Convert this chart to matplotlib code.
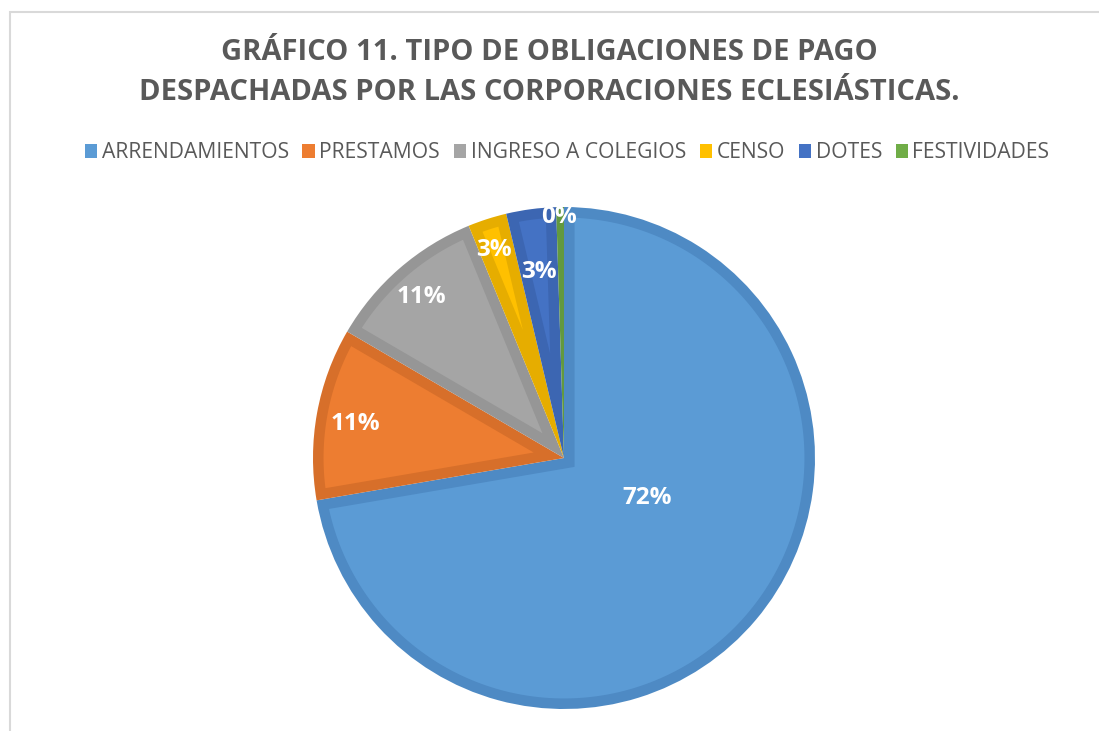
import numpy as np
import matplotlib.pyplot as plt
from matplotlib.patches import Rectangle, Wedge, Polygon

# data (percent of payment obligations)
categories = ['ARRENDAMIENTOS', 'PRESTAMOS', 'INGRESO A COLEGIOS', 'CENSO', 'DOTES', 'FESTIVIDADES']
values = [72.3, 11.1, 10.4, 2.5, 3.2, 0.5]
labels_txt = ['72%', '11%', '11%', '3%', '3%', '0%']

fill_colors = ['#5B9BD5', '#ED7D31', '#A5A5A5', '#FFC000', '#4472C4', '#70AD47']
edge_colors = ['#4E8AC4', '#D76F2A', '#969696', '#E6AD00', '#3C66B2', '#62993F']

# where Excel dropped the data labels (in pie-radius units)
label_pos = [(0.33, -0.16), (-0.83, 0.135), (-0.57, 0.64), (-0.28, 0.83), (-0.10, 0.74), (-0.02, 0.96)]

BORDER = 0.042   # thickness of the darker slice outline, in radius units


def inner_shape(a1, a2, r=1.0, d=BORDER):
    # the slice shrunk by d on every side (what is left inside the thick outline)
    h = np.radians(a2 - a1) / 2
    rin = r - d
    apex_dist = d / np.sin(h)
    if apex_dist >= rin:
        return None
    b = np.radians(a1) + h
    apex = (apex_dist * np.cos(b), apex_dist * np.sin(b))
    delta = np.arcsin(d / rin)
    t = np.linspace(np.radians(a1) + delta, np.radians(a2) - delta, 200)
    pts = [apex] + list(zip(rin * np.cos(t), rin * np.sin(t)))
    return pts


fig = plt.figure(figsize=(10.99, 7.31), dpi=100)

# light gray chart-area frame
fig.patches.append(Rectangle((9.5 / 1099, -0.1), 1.2, (731 - 11.5) / 731 + 0.1,
                             transform=fig.transFigure, fill=False,
                             edgecolor='#D9D9D9', linewidth=1.5))

ax = fig.add_axes([(564 - 251) / 1099, (731 - 458 - 251) / 731, 502 / 1099, 502 / 731])

# slices go clockwise from 12 o'clock
fracs = np.array(values) / sum(values)
start = 90.0
for f, fc, ec in zip(fracs, fill_colors, edge_colors):
    end = start - f * 360
    ax.add_patch(Wedge((0, 0), 1.0, end, start, facecolor=ec, edgecolor='none'))
    pts = inner_shape(end, start)
    if pts is not None:
        ax.add_patch(Polygon(pts, closed=True, facecolor=fc, edgecolor='none'))
    start = end

for (x, y), t in zip(label_pos, labels_txt):
    ax.text(x, y, t, ha='center', va='center', color='white',
            fontsize=17.5, fontweight='bold', family='Open Sans')
ax.set_xlim(-1, 1)
ax.set_ylim(-1, 1)
ax.set_aspect('equal')
ax.axis('off')

fig.text(0.5, 1 - 52 / 731, 'GRÁFICO 11. TIPO DE OBLIGACIONES DE PAGO',
         ha='center', va='center', fontsize=21, fontweight='bold', color='#595959', family='Open Sans')
fig.text(0.5, 1 - 92 / 731, 'DESPACHADAS POR LAS CORPORACIONES ECLESIÁSTICAS.',
         ha='center', va='center', fontsize=21, fontweight='bold', color='#595959', family='Open Sans')

handles = [Rectangle((0, 0), 1, 1, facecolor=c) for c in fill_colors]
leg = fig.legend(handles, categories, loc='center', bbox_to_anchor=(0.516, 1 - 153 / 731),
                 ncol=6, frameon=False, handlelength=0.6, handleheight=0.6, handletextpad=0.2,
                 columnspacing=0.65, prop={'family': 'Open Sans', 'size': 15.2})
for t in leg.get_texts():
    t.set_color('#595959')

fig.savefig('out.png', dpi=100, facecolor='white')
